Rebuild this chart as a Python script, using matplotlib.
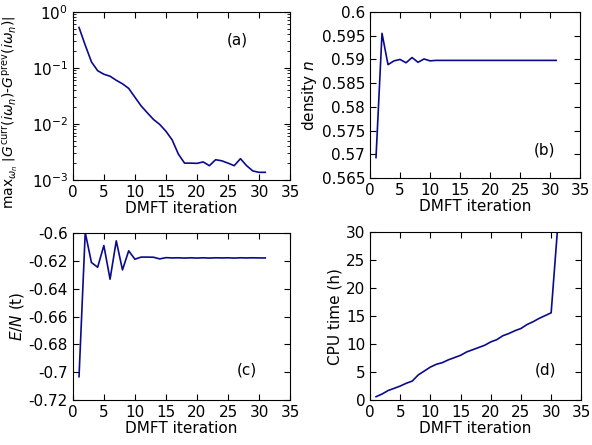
import numpy as np
import matplotlib
matplotlib.use("Agg")
from matplotlib import pyplot as plt

# DMFT iteration index
iters = np.arange(1, 32)

# (a) max |G_curr - G_prev|
conv = [0.525, 0.254, 0.128, 0.089, 0.077, 0.071, 0.060, 0.052, 0.043, 0.030,
        0.021, 0.0158, 0.012, 0.0098, 0.0074, 0.0052, 0.0029, 0.0020, 0.0020, 0.00198,
        0.0021, 0.0018, 0.0023, 0.0022, 0.0020, 0.0018, 0.0024, 0.0018, 0.00145, 0.00137,
        0.00137]

# (b) density n
density = [0.5693, 0.5955, 0.5889, 0.5897, 0.5900, 0.5893, 0.5904, 0.5894, 0.5901, 0.5897,
           0.5898, 0.5898, 0.5898, 0.5898, 0.5898, 0.5898, 0.5898, 0.5898, 0.5898, 0.5898,
           0.5898, 0.5898, 0.5898, 0.5898, 0.5898, 0.5898, 0.5898, 0.5898, 0.5898, 0.5898,
           0.5898]

# (c) energy per particle
energy = [-0.7032, -0.5995, -0.6211, -0.6245, -0.6089, -0.6331, -0.6055, -0.6264, -0.6127, -0.6187,
          -0.6172, -0.6172, -0.6173, -0.6185, -0.6176, -0.6178, -0.6177, -0.6179, -0.6177, -0.6179,
          -0.6177, -0.6179, -0.6177, -0.6178, -0.6177, -0.6179, -0.6177, -0.6178, -0.6177, -0.6178,
          -0.6178]

# (d) CPU time in hours
cpu = [0.6, 1.08, 1.7, 2.1, 2.5, 3.0, 3.4, 4.5, 5.2, 5.9,
       6.4, 6.7, 7.2, 7.6, 8.0, 8.6, 9.0, 9.4, 9.8, 10.4,
       10.8, 11.5, 11.9, 12.4, 12.8, 13.5, 14.0, 14.6, 15.1, 15.6,
       29.8]

plt.rcParams["font.size"] = 11
plt.rcParams["font.family"] = "DejaVu Sans"
plt.rcParams["mathtext.fontset"] = "dejavusans"

color = "#0a0a8c"
fig = plt.figure(figsize=(5.92, 4.45), dpi=100)

ax_a = fig.add_axes([0.123, 0.5955, 0.367, 0.378])
ax_b = fig.add_axes([0.625, 0.600, 0.355, 0.373])
ax_c = fig.add_axes([0.123, 0.101, 0.367, 0.375])
ax_d = fig.add_axes([0.625, 0.101, 0.357, 0.377])

for ax in (ax_a, ax_b, ax_c, ax_d):
    ax.tick_params(which="both", direction="in", top=True, right=True)
    ax.tick_params(which="major", length=4)
    ax.tick_params(which="minor", length=2)
    ax.set_xlim(0, 35)
    ax.set_xticks(range(0, 36, 5))
    ax.set_xlabel("DMFT iteration", labelpad=1)

ax_a.plot(iters, conv, color=color, lw=1.2)
ax_a.set_yscale("log")
ax_a.set_ylim(1e-3, 1)
ax_a.set_ylabel(r"max$_{\omega_n}$ $\left|G^{\rm curr}(i\omega_n)\right.$-$\left.G^{\rm prev}(i\omega_n)\right|$",
                fontsize=10)
ax_a.yaxis.set_label_coords(-0.245, 0.40)
ax_a.text(0.755, 0.83, "(a)", transform=ax_a.transAxes, ha="center", va="center")

ax_b.plot(iters, density, color=color, lw=1.2)
ax_b.set_ylim(0.565, 0.6)
ax_b.set_yticks(np.arange(0.565, 0.6001, 0.005))
ax_b.set_yticklabels(["0.565", "0.57", "0.575", "0.58", "0.585", "0.59", "0.595", "0.6"])
ax_b.set_ylabel(r"density $n$", labelpad=2)
ax_b.text(0.83, 0.17, "(b)", transform=ax_b.transAxes, ha="center", va="center")

ax_c.plot(iters, energy, color=color, lw=1.2)
ax_c.set_ylim(-0.72, -0.6)
ax_c.set_yticks(np.arange(-0.72, -0.5999, 0.02))
ax_c.set_yticklabels(["-0.72", "-0.7", "-0.68", "-0.66", "-0.64", "-0.62", "-0.6"])
ax_c.set_ylabel(r"$E/N$ (t)", labelpad=2)
ax_c.text(0.80, 0.18, "(c)", transform=ax_c.transAxes, ha="center", va="center")

ax_d.plot(iters, cpu, color=color, lw=1.2)
ax_d.set_ylim(0, 30)
ax_d.set_yticks(range(0, 31, 5))
ax_d.set_ylabel("CPU time (h)", labelpad=2)
ax_d.text(0.83, 0.18, "(d)", transform=ax_d.transAxes, ha="center", va="center")

fig.savefig("out.png", dpi=100)
